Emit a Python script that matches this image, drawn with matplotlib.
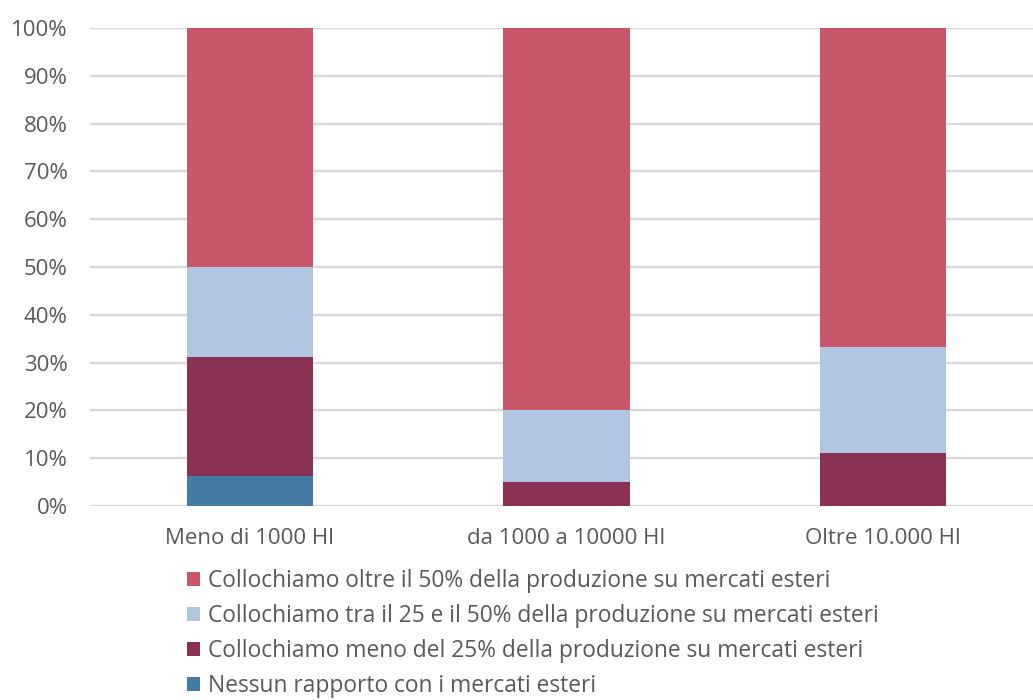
import numpy as np
import matplotlib.pyplot as plt
from matplotlib.patches import Patch
from matplotlib.ticker import PercentFormatter

plt.rcParams["font.family"] = ["Open Sans", "DejaVu Sans"]

categories = ["Meno di 1000 Hl", "da 1000 a 10000 Hl", "Oltre 10.000 Hl"]
nessun = [6.25, 0.0, 0.0]
meno_25 = [25.0, 5.0, 11.11]
tra_25_50 = [18.75, 15.0, 22.22]
oltre_50 = [50.0, 80.0, 66.67]

series = [
    ("Nessun rapporto con i mercati esteri", nessun, "#457CA6"),
    ("Collochiamo meno del 25% della produzione su mercati esteri", meno_25, "#8B3254"),
    ("Collochiamo tra il 25 e il 50% della produzione su mercati esteri", tra_25_50, "#B0C6E2"),
    ("Collochiamo oltre il 50% della produzione su mercati esteri", oltre_50, "#C9566A"),
]

text_color = "#595959"

fig = plt.figure(figsize=(10.33, 7), dpi=100)
ax = fig.add_axes([90 / 1033, 1 - 506 / 700, 943 / 1033, 478 / 700])

x = np.arange(len(categories))
bottom = np.zeros(len(categories))
for label, vals, color in series:
    vals = np.array(vals)
    ax.bar(x, vals, 0.40, bottom=bottom, color=color, label=label, zorder=3)
    bottom += vals

ax.set_xlim(-0.505, 2.474)
ax.set_ylim(0, 100)
ax.set_yticks(np.arange(0, 101, 10))
ax.yaxis.set_major_formatter(PercentFormatter(decimals=0))
ax.set_xticks(x)
ax.set_xticklabels(categories)
ax.grid(axis="y", color="#D9D9D9", linewidth=1.7, zorder=0)
ax.set_axisbelow(True)
for s in ax.spines.values():
    s.set_visible(False)
ax.tick_params(axis="both", length=0, labelsize=16, colors=text_color)
ax.tick_params(axis="x", pad=16)
ax.tick_params(axis="y", pad=16)
for lab in ax.get_yticklabels():
    lab.set_clip_on(False)

# legend lists the top segment first
handles = [Patch(facecolor=c, label=l) for l, v, c in reversed(series)]
fig.legend(handles=handles, loc="upper left", bbox_to_anchor=(178 / 1033, 1 - 560 / 700),
           frameon=False, fontsize=16.4, labelcolor=text_color, handlelength=0.55,
           handleheight=0.55, handletextpad=0.38, labelspacing=0.48, borderaxespad=0)

fig.savefig("out.png", dpi=100)
